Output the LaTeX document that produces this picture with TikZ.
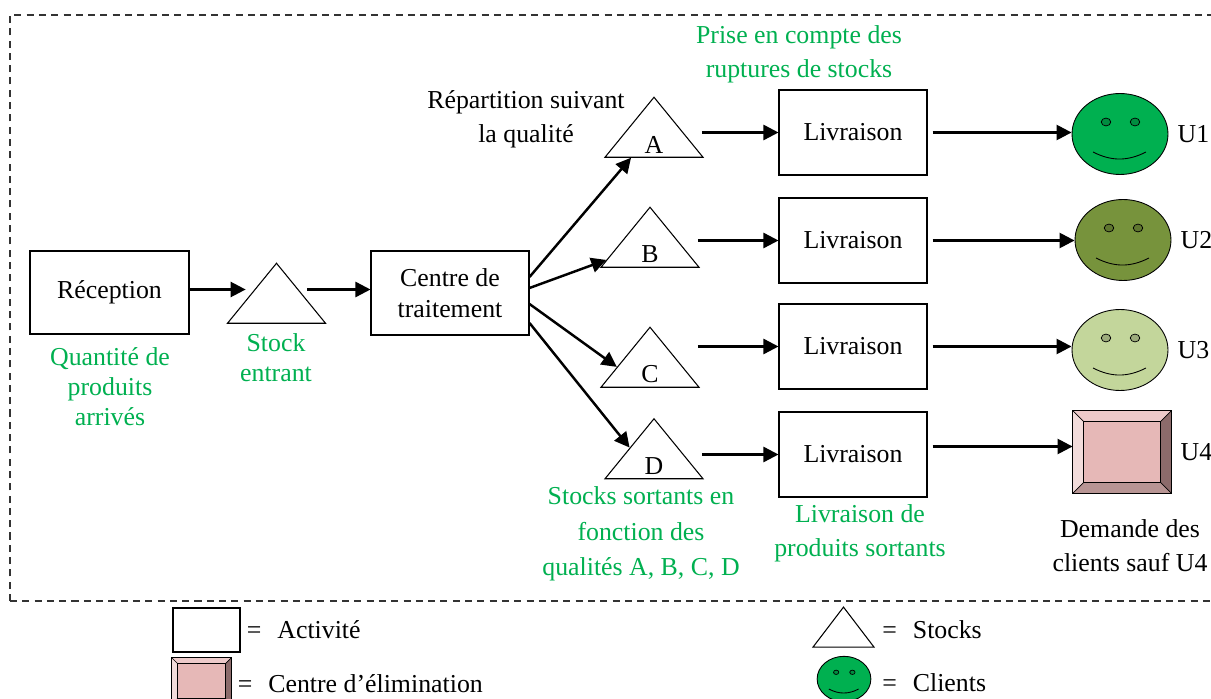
\documentclass[tikz,border=0pt]{standalone}
\usepackage{fontspec}
\setmainfont{Liberation Serif}
\usetikzlibrary{shapes.geometric,positioning,calc,arrows.meta}

\definecolor{vert}{HTML}{00B050}
\definecolor{cUa}{HTML}{00B050}
\definecolor{cUb}{HTML}{77933C}
\definecolor{cUc}{HTML}{C3D69B}
\definecolor{rose}{HTML}{E6B8B7}
\definecolor{rosehaut}{HTML}{EDCACA}
\definecolor{rosegauche}{HTML}{F2DCDB}
\definecolor{rosedroit}{HTML}{8C6B6B}
\definecolor{rosebas}{HTML}{B89594}

\begin{document}
\begin{tikzpicture}[x=0.02cm,y=-0.02cm,
    every node/.style={font=\fontsize{14.7}{19.5}\selectfont},
    act/.style={draw,line width=0.6pt,inner sep=0pt,align=center},
    stock/.style={draw,line width=0.6pt,isosceles triangle,isosceles triangle stretches,
        shape border rotate=90,inner sep=0pt,minimum width=1.96cm,minimum height=1.2cm},
    face/.style={draw,line width=0.5pt,ellipse,inner sep=0pt},
    elim/.style={draw,line width=0.5pt,fill=rose,inner sep=0pt},
    vlab/.style={text=vert,align=center},
    fl/.style={-{Triangle[length=0.3cm,width=0.3cm]},line width=1.4pt}]
\useasboundingbox (0,0) rectangle (1211,699);

\draw[line width=0.6pt,black!80,dash pattern=on 4pt off 3pt] (10,601) -- (10,15) -- (1215,15);
\draw[line width=0.6pt,black!80,dash pattern=on 4pt off 3pt] (10,601) -- (1215,601);

\node[act,minimum width=3.18cm,minimum height=1.66cm] (rec) at (109.5,292.5) {Réception};
\node[stock] (se) at (276.5,300) {};
\node[act,minimum width=3.16cm,minimum height=1.68cm] (ct) at (450,293) {Centre de\\[-2pt]traitement};

\foreach \t/\x/\y in {A/654/134,B/650/244,C/650/364,D/654/455.5}
    {\node[stock] (t\t) at (\x,\y) {};
     \node[above=0pt of t\t.south,inner sep=2.5pt] (l\t) {\t};}

\foreach \i/\y in {1/132.5,2/240.5,3/346.5,4/454.5}
    {\node[act,minimum width=2.96cm,minimum height=1.7cm] (lv\i) at (853,\y) {Livraison};}

\foreach \n/\xc/\yc/\s/\c in {u1/1120/134/1/cUa,u2/1123/240/1/cUb,u3/1120/350/1/cUc,legC/844/679/0.56/cUa}
    {\node[face,fill=\c,minimum width=\s*1.92cm,minimum height=\s*1.62cm] (\n) at (\xc,\yc) {};
     \draw[line width=0.4pt,fill=\c!80!black] ($(\n)+(-14*\s,-12*\s)$) ellipse [x radius=\s*0.095cm,y radius=\s*0.078cm];
     \draw[line width=0.4pt,fill=\c!80!black] ($(\n)+(15*\s,-12*\s)$) ellipse [x radius=\s*0.095cm,y radius=\s*0.078cm];
     \draw[line width=0.5pt] ($(\n)+(-27*\s,18*\s)$) to[bend right=27] ($(\n)+(26*\s,18*\s)$);}

\node[elim,minimum width=1.96cm,minimum height=1.64cm] (u4) at (1122,452) {};
\node[elim,minimum width=1.18cm,minimum height=0.92cm] (legE) at (201.5,681) {};
\foreach \bx/\bw in {u4/11,legE/6}
    {\fill[rosehaut] (\bx.north west) -- (\bx.north east) -- ($(\bx.north east)+(-\bw,\bw)$) -- ($(\bx.north west)+(\bw,\bw)$) -- cycle;
     \fill[rosegauche] (\bx.north west) -- (\bx.south west) -- ($(\bx.south west)+(\bw,-\bw)$) -- ($(\bx.north west)+(\bw,\bw)$) -- cycle;
     \fill[rosedroit] (\bx.north east) -- (\bx.south east) -- ($(\bx.south east)+(-\bw,-\bw)$) -- ($(\bx.north east)+(-\bw,\bw)$) -- cycle;
     \fill[rosebas] (\bx.south west) -- (\bx.south east) -- ($(\bx.south east)+(-\bw,-\bw)$) -- ($(\bx.south west)+(\bw,-\bw)$) -- cycle;
     \draw[line width=0.5pt] (\bx.north west) rectangle (\bx.south east);
     \draw[line width=0.4pt] ($(\bx.north west)+(\bw,\bw)$) rectangle ($(\bx.south east)+(-\bw,-\bw)$);
     \draw[line width=0.4pt] (\bx.north west) -- ++(\bw,\bw) (\bx.north east) -- ++(-\bw,\bw)
         (\bx.south west) -- ++(\bw,-\bw) (\bx.south east) -- ++(-\bw,-\bw);}

\draw[fl] ([yshift=0.06cm]rec.east) -- ([yshift=0.06cm]rec.east -| se.west);
\draw[fl] ([yshift=0.07cm]ct.west -| se.east) -- ([yshift=0.07cm]ct.west);
\draw[fl] ([yshift=0.32cm]ct.east) -- (tA.-134);
\draw[fl] ([yshift=0.1cm]ct.east) -- (tB.-160);
\draw[fl] ([yshift=-0.22cm]ct.east) -- (tC.-175);
\draw[fl] ([yshift=-0.6cm]ct.east) -- (tD.162);
\foreach \t/\i in {A/1,B/2,C/3,D/4}
    {\draw[fl,shorten <=0.34cm] (lv\i.west -| t\t.east) -- (lv\i.west);}
\draw[fl,shorten <=0.1cm] (lv1.east) -- (lv1.east -| u1.west);
\draw[fl,shorten <=0.1cm] (lv2.east) -- (lv2.east -| u2.west);
\draw[fl,shorten <=0.1cm] (lv3.east) -- (lv3.east -| u3.west);
\draw[fl,shorten <=0.1cm] ([yshift=0.16cm]lv4.east) -- ([yshift=0.16cm]lv4.east -| u4.west);

\foreach \n/\u in {u1/U1,u2/U2,u3/U3,u4/U4}
    {\node[right=0.06cm of \n] (lab\n) {\u};}

\node[vlab,font=\fontsize{14.7}{17}\selectfont] (qte) at (110,387) {Quantité de\\produits\\arrivés};
\node[vlab,font=\fontsize{14.7}{17}\selectfont] (sent) at (276,358) {Stock\\entrant};
\node[vlab] (rupt) at (799,54) {Prise en compte des\\ruptures de stocks};
\node[align=center] (rep) at (526,119) {Répartition suivant\\la qualité};
\node[vlab,font=\fontsize{14.7}{20.3}\selectfont] (ssort) at (641,534) {Stocks sortants en\\fonction des\\qualités A, B, C, D};
\node[vlab] (lsort) at (860,533) {Livraison de\\produits sortants};
\node[align=center] (dem) at (1130,546) {Demande des\\clients sauf U4};

\node[act,minimum width=1.34cm,minimum height=0.88cm] (legA) at (206.5,630) {};
\node[right=0.12cm of legA.east,anchor=west,inner sep=0pt] (txtA) {=\hspace{0.32cm}Activité};
\node[right=0.12cm of legE.east,anchor=west,inner sep=0pt,yshift=-0.06cm] (txtE) {=\hspace{0.32cm}Centre d’élimination};
\node[stock,minimum width=1.22cm,minimum height=0.8cm] (legS) at (843.5,632) {};
\node[anchor=west,inner sep=0pt] (txtS) at (882,630) {=\hspace{0.32cm}Stocks};
\node[anchor=west,inner sep=0pt] (txtC) at (882,683) {=\hspace{0.32cm}Clients};
\end{tikzpicture}
\end{document}
